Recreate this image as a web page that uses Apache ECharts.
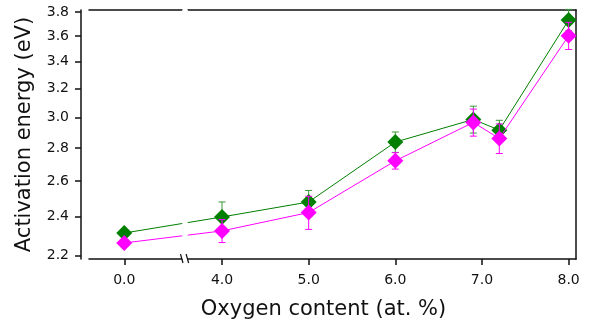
<!DOCTYPE html>
<html>
<head>
<meta charset="utf-8">
<script src="https://cdn.jsdelivr.net/npm/echarts@6.0.0/dist/echarts.min.js"></script>
<style>
html,body{margin:0;padding:0;background:#fff;}
#chart{width:598px;height:327px;}
</style>
</head>
<body>
<div id="chart"></div>
<script>
// 数据
var oxygen = [0.0, 4.0, 5.0, 6.0, 6.9, 7.2, 8.0];
var greenVals = [2.314, 2.399, 2.481, 2.838, 2.986, 2.915, 3.732];
var greenErr = [0, 0.082, 0.065, 0.065, 0.09, 0.065, 0.09];
var pinkVals = [2.263, 2.325, 2.423, 2.721, 2.966, 2.861, 3.603];
var pinkErr = [0, 0.06, 0.09, 0.05, 0.09, 0.095, 0.11];
var xTicks = [0, 4, 5, 6, 7, 8];
var yTicks = [2.2, 2.4, 2.6, 2.8, 3.0, 3.2, 3.4, 3.6, 3.8];

var GREEN = '#007f00';
var PINK = '#ff00ff';
var FONT = 'DejaVu Sans';

function pairs(vals){
    var out = [];
    for(var i=0;i<oxygen.length;i++){
        out.push([oxygen[i], vals[i]]);
    }
    return out;
}
function errData(vals, errs){
    var out = [];
    for(var i=0;i<oxygen.length;i++){
        if(errs[i] > 0){
            out.push([oxygen[i], vals[i]-errs[i], vals[i]+errs[i]]);
        }
    }
    return out;
}

//误差线
function errRender(color){
    return function(params, api){
        var x = api.value(0);
        var top = api.coord([x, api.value(2)]);
        var bot = api.coord([x, api.value(1)]);
        var w = 3.5;
        var st = {stroke: color, lineWidth: 1};
        return {
            type: 'group',
            children: [
                {type:'line', shape:{x1:top[0], y1:top[1], x2:bot[0], y2:bot[1]}, style:st},
                {type:'line', shape:{x1:top[0]-w, y1:top[1], x2:top[0]+w, y2:top[1]}, style:st},
                {type:'line', shape:{x1:bot[0]-w, y1:bot[1], x2:bot[0]+w, y2:bot[1]}, style:st}
            ]
        };
    };
}

var xBreaks = [{start: 0.666, end: 3.603, gap: 0.065}];
var breakArea = {
    show: true,
    expandOnClick: false,
    zigzagAmplitude: 0,
    itemStyle: {color: '#fff', borderWidth: 0, opacity: 1}
};

var myChart = echarts.init(document.getElementById('chart'));
var option = {
    animation: false,
    grid: {left: 89, right: 22, top: 10, bottom: 68},
    xAxis: [{
        type: 'value',
        min: -0.407,
        max: 8.085,
        breaks: xBreaks,
        breakArea: breakArea,
        name: 'Oxygen content (at. %)',
        nameLocation: 'middle',
        nameGap: 40,
        nameTextStyle: {fontFamily: FONT, fontSize: 21, color: '#111', padding: [0, 18, 0, 0]},
        axisLine: {show: true, onZero: false, lineStyle: {color: '#111', width: 1.5}},
        axisTick: {show: true, length: 6, customValues: xTicks, lineStyle: {color: '#111', width: 1.5}},
        axisLabel: {
            customValues: xTicks,
            margin: 14,
            fontFamily: FONT, fontSize: 14, color: '#111',
            formatter: function(v){ return v.toFixed(1); }
        },
        splitLine: {show: false}
    },{
        type: 'value',
        position: 'top',
        min: -0.407,
        max: 8.085,
        breaks: xBreaks,
        breakArea: breakArea,
        axisLine: {show: true, onZero: false, lineStyle: {color: '#111', width: 1.5}},
        axisTick: {show: false},
        axisLabel: {show: false},
        splitLine: {show: false}
    }],
    yAxis: [{
        type: 'log',
        min: 2.183,
        max: 3.817,
        offset: 8,
        name: 'Activation energy (eV)',
        nameLocation: 'middle',
        nameGap: 46,
        nameTextStyle: {fontFamily: FONT, fontSize: 21, color: '#111'},
        axisLine: {show: true, onZero: false, lineStyle: {color: '#111', width: 1.5}},
        axisTick: {show: true, length: 6, customValues: yTicks, lineStyle: {color: '#111', width: 1.5}},
        axisLabel: {
            customValues: yTicks,
            margin: 12,
            fontFamily: FONT, fontSize: 14, color: '#111',
            formatter: function(v){ return (+v).toFixed(1); }
        },
        splitLine: {show: false}
    },{
        type: 'log',
        position: 'right',
        min: 2.183,
        max: 3.817,
        axisLine: {show: true, onZero: false, lineStyle: {color: '#111', width: 1.5}},
        axisTick: {show: false},
        axisLabel: {show: false},
        splitLine: {show: false}
    }],
    series: [{
        type: 'custom',
        renderItem: errRender('#3a9a3a'),
        data: errData(greenVals, greenErr),
        z: 1
    },{
        type: 'line',
        data: pairs(greenVals),
        symbol: 'diamond',
        symbolSize: 16,
        lineStyle: {color: GREEN, width: 1},
        itemStyle: {color: GREEN},
        z: 2
    },{
        type: 'custom',
        renderItem: errRender(PINK),
        data: errData(pinkVals, pinkErr),
        z: 3
    },{
        type: 'line',
        data: pairs(pinkVals),
        symbol: 'diamond',
        symbolSize: 16,
        lineStyle: {color: PINK, width: 1},
        itemStyle: {color: PINK},
        z: 4
    }]
};
myChart.setOption(option);

//底部断轴的斜线标记
var xa = myChart.convertToPixel({xAxisIndex: 0}, xBreaks[0].start);
var xb = myChart.convertToPixel({xAxisIndex: 0}, xBreaks[0].end);
var yb = myChart.convertToPixel({yAxisIndex: 0}, 2.183);
var slashStyle = {stroke: '#111', lineWidth: 1.2};
myChart.setOption({
    graphic: [
        {type: 'line', shape: {x1: xa - 1.5, y1: yb - 5, x2: xa + 1, y2: yb + 4}, style: slashStyle, z: 100},
        {type: 'line', shape: {x1: xb - 1.5, y1: yb - 5, x2: xb + 1, y2: yb + 4}, style: slashStyle, z: 100}
    ]
});
</script>
</body>
</html>
